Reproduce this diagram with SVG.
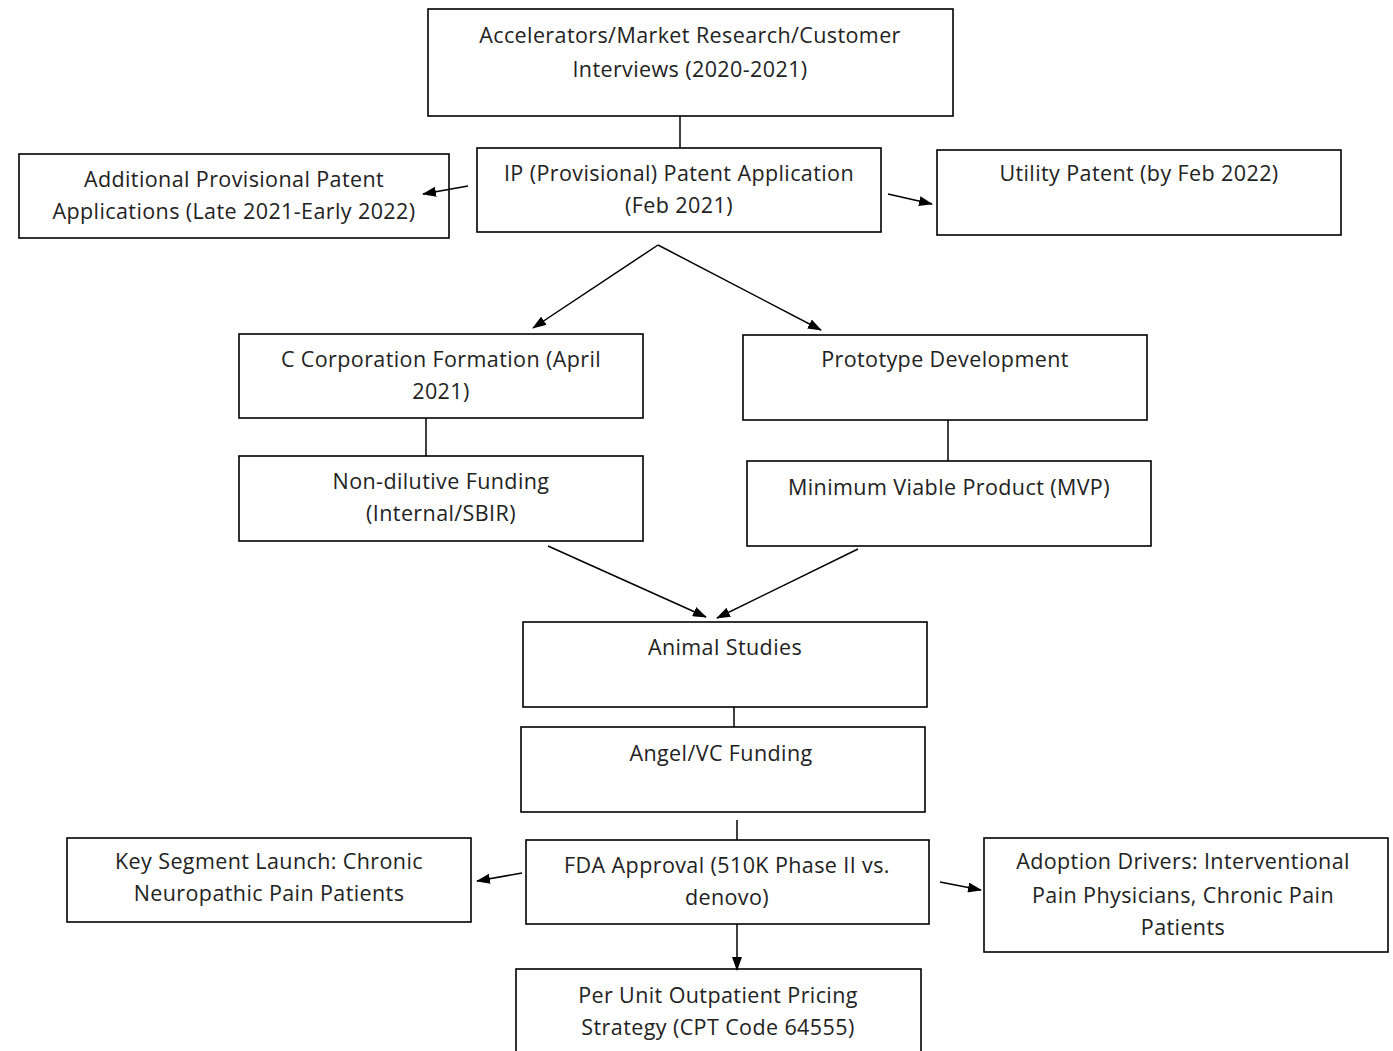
<svg xmlns="http://www.w3.org/2000/svg" width="1393" height="1051" viewBox="0 0 1393 1051">
<defs>
<style>
.box{fill:#fff;stroke:#000;stroke-width:1.6}
.t{font-family:"Open Sans","Noto Sans","Liberation Sans",sans-serif;font-size:21.5px;letter-spacing:0.4px;fill:#222;text-anchor:middle}
.c{stroke:#000;stroke-width:1.5;fill:none}
</style>
<marker id="ah" markerWidth="14" markerHeight="10" refX="13" refY="5" orient="auto" markerUnits="userSpaceOnUse">
<path d="M0,0 L14,5 L0,10 Z" fill="#000"/>
</marker>
</defs>
<rect width="1393" height="1051" fill="#fff"/>
<g id="n1"><rect class="box" x="428" y="9" width="525" height="107"/>
<text class="t" x="690" y="43">Accelerators/Market Research/Customer</text>
<text class="t" x="690" y="77">Interviews (2020-2021)</text></g>
<g id="n2"><rect class="box" x="477" y="148" width="404" height="84"/>
<text class="t" x="679" y="181">IP (Provisional) Patent Application</text>
<text class="t" x="679" y="213">(Feb 2021)</text></g>
<g id="n3"><rect class="box" x="19" y="154" width="430" height="84"/>
<text class="t" x="234" y="187">Additional Provisional Patent</text>
<text class="t" x="234" y="219">Applications (Late 2021-Early 2022)</text></g>
<g id="n4"><rect class="box" x="937" y="150" width="404" height="85"/>
<text class="t" x="1139" y="181">Utility Patent (by Feb 2022)</text></g>
<g id="n5"><rect class="box" x="239" y="334" width="404" height="84"/>
<text class="t" x="441" y="367">C Corporation Formation (April</text>
<text class="t" x="441" y="399">2021)</text></g>
<g id="n6"><rect class="box" x="743" y="335" width="404" height="85"/>
<text class="t" x="945" y="367">Prototype Development</text></g>
<g id="n7"><rect class="box" x="239" y="456" width="404" height="85"/>
<text class="t" x="441" y="489">Non-dilutive Funding</text>
<text class="t" x="441" y="521">(Internal/SBIR)</text></g>
<g id="n8"><rect class="box" x="747" y="461" width="404" height="85"/>
<text class="t" x="949" y="495">Minimum Viable Product (MVP)</text></g>
<g id="n9"><rect class="box" x="523" y="622" width="404" height="85"/>
<text class="t" x="725" y="655">Animal Studies</text></g>
<g id="n10"><rect class="box" x="521" y="727" width="404" height="85"/>
<text class="t" x="721" y="761">Angel/VC Funding</text></g>
<g id="n11"><rect class="box" x="526" y="840" width="403" height="84"/>
<text class="t" x="727" y="873">FDA Approval (510K Phase II vs.</text>
<text class="t" x="727" y="905">denovo)</text></g>
<g id="n12"><rect class="box" x="67" y="838" width="404" height="84"/>
<text class="t" x="269" y="869">Key Segment Launch: Chronic</text>
<text class="t" x="269" y="901">Neuropathic Pain Patients</text></g>
<g id="n13"><rect class="box" x="984" y="838" width="404" height="114"/>
<text class="t" x="1183" y="869">Adoption Drivers: Interventional</text>
<text class="t" x="1183" y="903">Pain Physicians, Chronic Pain</text>
<text class="t" x="1183" y="935">Patients</text></g>
<g id="n14"><rect class="box" x="516" y="969" width="405" height="90"/>
<text class="t" x="718" y="1003">Per Unit Outpatient Pricing</text>
<text class="t" x="718" y="1035">Strategy (CPT Code 64555)</text></g>
<g id="connectors">
<line class="c" x1="680" y1="116" x2="680" y2="148"/>
<line class="c" x1="468" y1="186" x2="423" y2="194" marker-end="url(#ah)"/>
<line class="c" x1="888" y1="194" x2="932" y2="204" marker-end="url(#ah)"/>
<line class="c" x1="658" y1="245" x2="533" y2="328" marker-end="url(#ah)"/>
<line class="c" x1="658" y1="245" x2="821" y2="330" marker-end="url(#ah)"/>
<line class="c" x1="426" y1="418" x2="426" y2="456"/>
<line class="c" x1="948" y1="420" x2="948" y2="461"/>
<line class="c" x1="548" y1="546" x2="706" y2="617" marker-end="url(#ah)"/>
<line class="c" x1="858" y1="549" x2="717" y2="618" marker-end="url(#ah)"/>
<line class="c" x1="734" y1="707" x2="734" y2="727"/>
<line class="c" x1="737" y1="820" x2="737" y2="840"/>
<line class="c" x1="522" y1="873" x2="477" y2="881" marker-end="url(#ah)"/>
<line class="c" x1="940" y1="882" x2="981" y2="890" marker-end="url(#ah)"/>
<line class="c" x1="737" y1="924" x2="737" y2="970" marker-end="url(#ah)"/>
</g>
</svg>
